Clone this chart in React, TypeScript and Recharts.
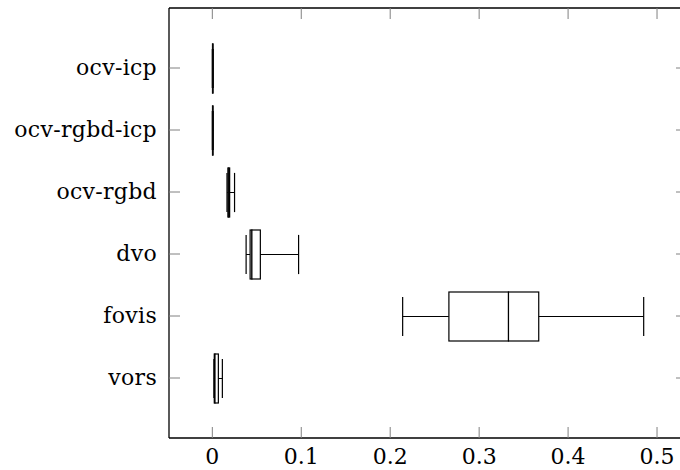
import React from 'react';
import { ComposedChart, Bar, XAxis, YAxis } from 'recharts';

const categories = ['ocv-icp', 'ocv-rgbd-icp', 'ocv-rgbd', 'dvo', 'fovis', 'vors'];
const mins = [0, 0, 0.0165, 0.038, 0.214, 0.0018];
const q1s = [0.0002, 0.0002, 0.0175, 0.0425, 0.266, 0.0022];
const medians = [0.0005, 0.0005, 0.0185, 0.0445, 0.333, 0.003];
const q3s = [0.0008, 0.0008, 0.0195, 0.054, 0.367, 0.0068];
const maxs = [0.001, 0.001, 0.025, 0.097, 0.485, 0.0113];
const xTicks = [0, 0.1, 0.2, 0.3, 0.4, 0.5];
const xTickLabels = ['0', '0.1', '0.2', '0.3', '0.4', '0.5'];

const data = categories.map((name, i) => ({
  name,
  base: mins[i],
  lw: q1s[i] - mins[i],
  b1: medians[i] - q1s[i],
  b2: q3s[i] - medians[i],
  uw: maxs[i] - q3s[i],
}));

const textStyle: React.CSSProperties = {
  fontFamily: "'DejaVu Serif'",
  fontSize: 22,
  fill: '#000',
};
const TICK_COLOR = '#808080';

const LowWhisker = (p: any) => {
  const { x, y, width, height } = p;
  const cy = y + height / 2;
  const cap = height * 0.4;
  return (
    <g>
      <line x1={x} x2={x + width} y1={cy} y2={cy} stroke="#000" strokeWidth={1} />
      <line x1={x} x2={x} y1={cy - cap} y2={cy + cap} stroke="#000" strokeWidth={1.2} />
    </g>
  );
};

const HighWhisker = (p: any) => {
  const { x, y, width, height } = p;
  const cy = y + height / 2;
  const cap = height * 0.4;
  return (
    <g>
      <line x1={x} x2={x + width} y1={cy} y2={cy} stroke="#000" strokeWidth={1} />
      <line x1={x + width} x2={x + width} y1={cy - cap} y2={cy + cap} stroke="#000" strokeWidth={1.2} />
    </g>
  );
};

const BoxPart = (p: any) => {
  const { x, y, width, height } = p;
  return <rect x={x} y={y} width={Math.max(width, 0)} height={height} fill="#fff" stroke="#000" strokeWidth={1.2} />;
};

const Empty = () => <g />;

const BottomTick = (p: any) => {
  const { x, y, payload } = p;
  const idx = xTicks.indexOf(payload.value);
  return (
    <g>
      <line x1={x} x2={x} y1={y} y2={y - 11} stroke={TICK_COLOR} strokeWidth={1} />
      <text x={x} y={y + 26} textAnchor="middle" style={textStyle}>
        {idx >= 0 ? xTickLabels[idx] : String(payload.value)}
      </text>
    </g>
  );
};

const TopTick = (p: any) => {
  const { x, y } = p;
  return <line x1={x} x2={x} y1={y} y2={y + 11} stroke={TICK_COLOR} strokeWidth={1} />;
};

const LeftTick = (p: any) => {
  const { x, y, payload } = p;
  return (
    <g>
      <line x1={x} x2={x + 11} y1={y} y2={y} stroke={TICK_COLOR} strokeWidth={1} />
      <text x={x - 12} y={y} dy="0.3em" textAnchor="end" letterSpacing={0.3} style={textStyle}>
        {payload.value}
      </text>
    </g>
  );
};

const RightTick = (p: any) => {
  const { x, y } = p;
  return <line x1={x} x2={x - 11} y1={y} y2={y} stroke={TICK_COLOR} strokeWidth={1} />;
};

const axisLine = { stroke: '#000', strokeWidth: 1.3 };
const domain: [number, number] = [-0.0487, 0.5337];

export default function App() {
  return (
    <div style={{ position: 'fixed', left: 0, top: 0, width: 680, height: 470, overflow: 'hidden', background: '#fff' }}>
      <ComposedChart
        width={700}
        height={470}
        data={data}
        layout="vertical"
        margin={{ top: 7, right: 3, bottom: 0, left: 0 }}
        barCategoryGap={0}
      >
        <XAxis
          type="number"
          domain={domain}
          allowDataOverflow
          ticks={xTicks}
          tickSize={0}
          tickMargin={0}
          tickLine={false}
          axisLine={axisLine}
          tick={BottomTick}
          height={32}
          interval={0}
        />
        <XAxis
          xAxisId="top"
          orientation="top"
          type="number"
          domain={domain}
          allowDataOverflow
          ticks={xTicks}
          tickSize={0}
          tickMargin={0}
          tickLine={false}
          axisLine={axisLine}
          tick={TopTick}
          height={1}
          interval={0}
        />
        <YAxis
          type="category"
          dataKey="name"
          width={169}
          padding={{ top: 29, bottom: 29 }}
          tickSize={0}
          tickMargin={0}
          tickLine={false}
          axisLine={axisLine}
          tick={LeftTick}
          interval={0}
        />
        <YAxis
          yAxisId="r"
          orientation="right"
          type="category"
          dataKey="name"
          width={10}
          padding={{ top: 29, bottom: 29 }}
          tickSize={0}
          tickMargin={0}
          tickLine={false}
          axisLine={axisLine}
          tick={RightTick}
          interval={0}
        />
        <Bar dataKey="base" stackId="a" barSize={49} shape={Empty} isAnimationActive={false} />
        <Bar dataKey="lw" stackId="a" barSize={49} shape={LowWhisker} isAnimationActive={false} />
        <Bar dataKey="b1" stackId="a" barSize={49} shape={BoxPart} isAnimationActive={false} />
        <Bar dataKey="b2" stackId="a" barSize={49} shape={BoxPart} isAnimationActive={false} />
        <Bar dataKey="uw" stackId="a" barSize={49} shape={HighWhisker} isAnimationActive={false} />
      </ComposedChart>
    </div>
  );
}
